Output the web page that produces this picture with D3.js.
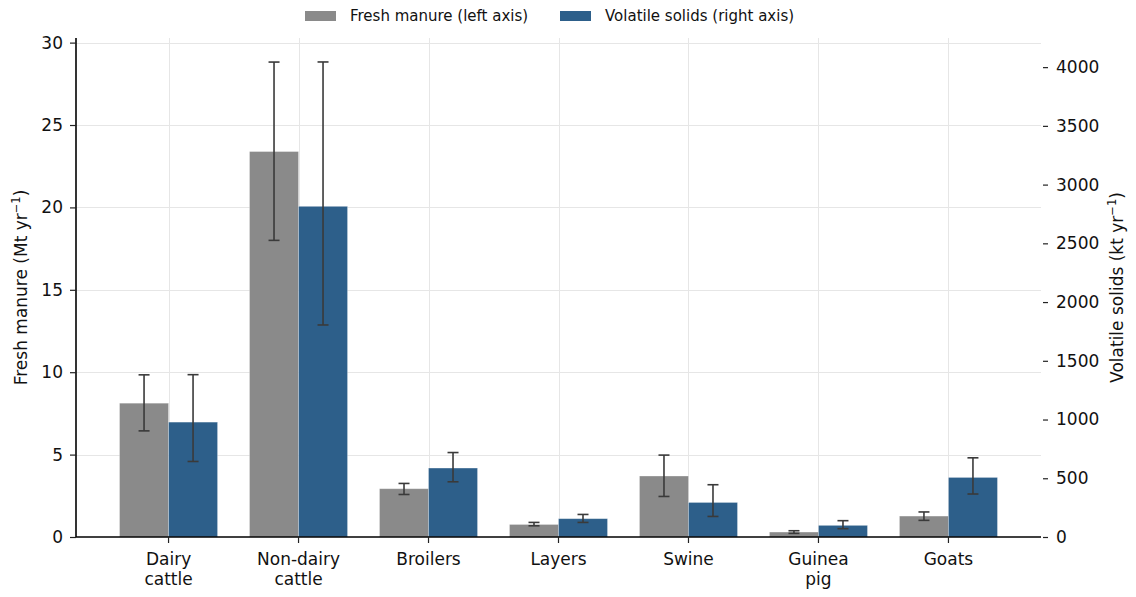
<!DOCTYPE html>
<html>
  <head>
    <meta charset="utf-8">
    <title>Manure and volatile solids</title>
    <style media="screen">
      body {margin:0; background:#fff}
      text {font-family: "DejaVu Sans", sans-serif; fill:#111}
    </style>
  </head>
  <body>
    <script src="https://cdn.jsdelivr.net/npm/d3@7"></script>
    <script type="text/javascript">

    // data
    const categories = [['Dairy','cattle'], ['Non-dairy','cattle'], ['Broilers'], ['Layers'], ['Swine'], ['Guinea','pig'], ['Goats']]
    const manure = [8.12, 23.39, 2.93, 0.76, 3.70, 0.30, 1.27]          // Mt/yr
    const manureLo = [6.44, 18.0, 2.58, 0.68, 2.46, 0.22, 1.01]
    const manureHi = [9.84, 28.82, 3.25, 0.885, 4.97, 0.38, 1.52]
    const solids = [978, 2815, 587, 156, 294, 99, 507]                 // kt/yr
    const solidsLo = [643, 1805, 470, 124, 175, 71, 366]
    const solidsHi = [1382, 4044, 719, 192, 445, 139, 674]
    const leftTicks = [0, 5, 10, 15, 20, 25, 30]
    const rightTicks = [0, 500, 1000, 1500, 2000, 2500, 3000, 3500, 4000]

    const W = 1136, H = 597
    const m = {l: 76, r: 1041, t: 38, b: 537}
    const grey = '#8a8a8a', blue = '#2d5f8a'
    const fs = 17

    const svg = d3.select('body').append('svg')
      .attr('width', W)
      .attr('height', H)

    const x = d3.scaleBand()
      .domain(d3.range(categories.length))
      .range([m.l, m.r])
      .paddingInner(0)
      .paddingOuter(0.212)

    const yL = d3.scaleLinear().domain([0, 30.28]).range([m.b, m.t])
    const yR = d3.scaleLinear().domain([0, 4248]).range([m.b, m.t])

    const bw = x.step() * 0.377
    const cx = i => x(i) + x.bandwidth() / 2

    // grid
    const grid = svg.append('g').attr('stroke', '#e6e6e6').attr('stroke-width', 1)
    grid.selectAll('.h').data(leftTicks.slice(1)).join('line')
      .attr('x1', m.l).attr('x2', m.r)
      .attr('y1', d => Math.round(yL(d)) + 0.5).attr('y2', d => Math.round(yL(d)) + 0.5)
    grid.selectAll('.v').data(d3.range(categories.length)).join('line')
      .attr('x1', i => Math.round(cx(i)) + 0.5).attr('x2', i => Math.round(cx(i)) + 0.5)
      .attr('y1', m.t).attr('y2', m.b)

    // bars
    const series = [
      {vals: manure, lo: manureLo, hi: manureHi, y: yL, color: grey, off: -bw},
      {vals: solids, lo: solidsLo, hi: solidsHi, y: yR, color: blue, off: 0}
    ]

    series.forEach(s => {
      svg.append('g').selectAll('rect').data(s.vals).join('rect')
        .attr('x', (d, i) => cx(i) + s.off)
        .attr('y', d => s.y(d))
        .attr('width', bw)
        .attr('height', d => m.b - s.y(d))
        .attr('fill', s.color)
        .attr('stroke', 'rgba(255,255,255,0.35)')
        .attr('stroke-width', 0.8)
    })

    series.forEach(s => {
      const g = svg.append('g').attr('stroke', '#3a3a3a').attr('stroke-width', 1.6)
      const ex = i => cx(i) + s.off + bw / 2
      g.selectAll('.stem').data(s.vals).join('line')
        .attr('x1', (d, i) => ex(i)).attr('x2', (d, i) => ex(i))
        .attr('y1', (d, i) => s.y(s.lo[i])).attr('y2', (d, i) => s.y(s.hi[i]))
      ;['lo', 'hi'].forEach(k => {
        g.selectAll('.cap' + k).data(s.vals).join('line')
          .attr('x1', (d, i) => ex(i) - 5.5).attr('x2', (d, i) => ex(i) + 5.5)
          .attr('y1', (d, i) => s.y(s[k][i])).attr('y2', (d, i) => s.y(s[k][i]))
      })
    })

    // axes
    const left = svg.append('g')
      .attr('transform', `translate(${m.l},0)`)
      .call(d3.axisLeft(yL).tickValues(leftTicks).tickSize(6).tickPadding(7))
    left.select('.domain').attr('d', `M0,${m.t}V${m.b}`).attr('stroke', '#000').attr('stroke-width', 1.6)

    const right = svg.append('g')
      .attr('transform', `translate(${m.r + 2},0)`)
      .call(d3.axisRight(yR).tickValues(rightTicks).tickFormat(d3.format('d')).tickSize(5).tickPadding(8))
    right.select('.domain').remove()

    const bottom = svg.append('g')
      .attr('transform', `translate(0,${m.b})`)
      .call(d3.axisBottom(x).tickSize(6).tickFormat(''))
    bottom.select('.domain').attr('d', `M${m.l},0H${m.r}`).attr('stroke', '#000').attr('stroke-width', 1.6)

    svg.selectAll('.tick line').attr('stroke', '#222').attr('stroke-width', 1.2)
    svg.selectAll('.tick text').attr('font-size', fs).attr('font-family', '"DejaVu Sans", sans-serif').attr('fill', '#111')

    bottom.selectAll('.tick').append('text')
      .attr('text-anchor', 'middle')
      .attr('font-size', fs)
      .attr('fill', '#111')
      .selectAll('tspan').data(i => categories[i]).join('tspan')
        .attr('x', 0)
        .attr('y', (d, j) => 28 + j * 20)
        .text(d => d)

    // axis titles
    const midY = (m.t + m.b) / 2
    const lt = svg.append('text')
      .attr('transform', `translate(27,${midY}) rotate(-90)`)
      .attr('text-anchor', 'middle')
      .attr('font-size', fs)
    lt.append('tspan').text('Fresh manure (Mt yr')
    lt.append('tspan').attr('font-size', 11.5).attr('dy', -7).text('−1')
    lt.append('tspan').attr('dy', 7).text(')')

    const rt = svg.append('text')
      .attr('transform', `translate(1123,${midY}) rotate(-90)`)
      .attr('text-anchor', 'middle')
      .attr('font-size', fs)
    rt.append('tspan').text('Volatile solids (kt yr')
    rt.append('tspan').attr('font-size', 11.5).attr('dy', -7).text('−1')
    rt.append('tspan').attr('dy', 7).text(')')

    // legend
    const legend = [
      {label: 'Fresh manure (left axis)', color: grey, x: 305},
      {label: 'Volatile solids (right axis)', color: blue, x: 560}
    ]
    const lg = svg.append('g').selectAll('g').data(legend).join('g')
      .attr('transform', d => `translate(${d.x},11)`)
    lg.append('rect').attr('width', 31).attr('height', 10).attr('fill', d => d.color)
    lg.append('text').attr('x', 45).attr('y', 10).attr('font-size', 15).text(d => d.label)
    </script>
  </body>
</html>
